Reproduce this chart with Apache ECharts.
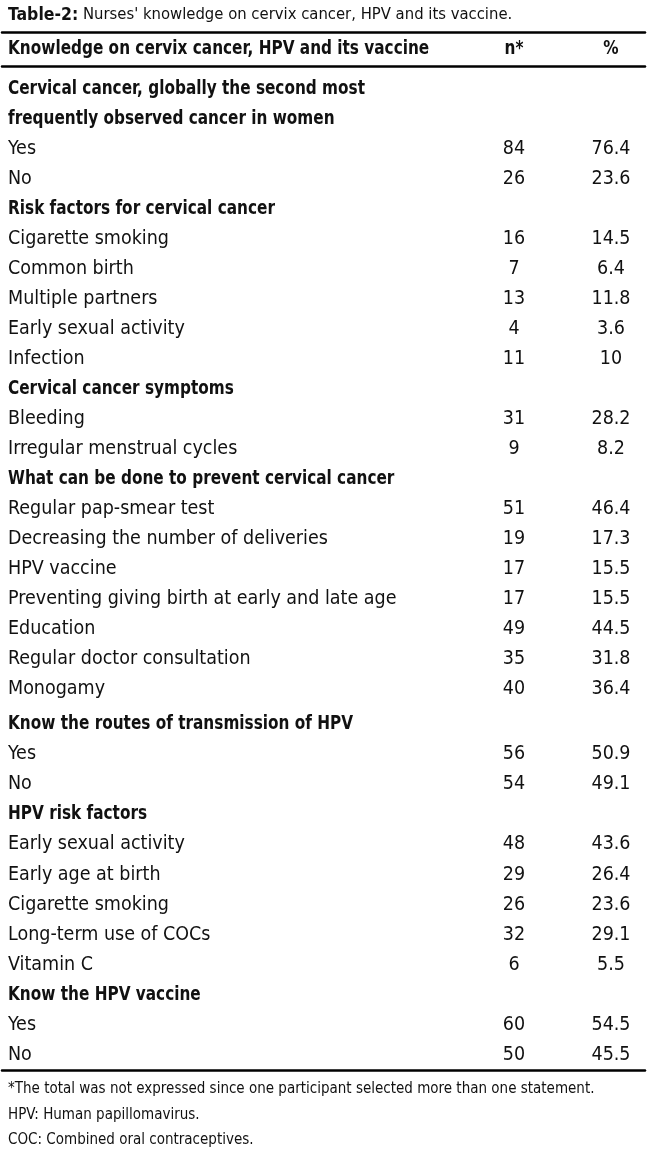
<!DOCTYPE html>
<html>
<head>
<meta charset="utf-8">
<script src="https://cdn.jsdelivr.net/npm/echarts@6/dist/echarts.min.js"></script>
<style>
  html, body { margin: 0; padding: 0; background: #fff; }
  #table { width: 650px; height: 1159px; }
</style>
</head>
<body>
<div id="table"></div>
<script>
// table content
var headerCols = ['Knowledge on cervix cancer, HPV and its vaccine', 'n*', '%'];
var labels = [
    'Cervical cancer, globally the second most',
    'frequently observed cancer in women',
    'Yes', 'No',
    'Risk factors for cervical cancer',
    'Cigarette smoking', 'Common birth', 'Multiple partners', 'Early sexual activity', 'Infection',
    'Cervical cancer symptoms',
    'Bleeding', 'Irregular menstrual cycles',
    'What can be done to prevent cervical cancer',
    'Regular pap-smear test', 'Decreasing the number of deliveries', 'HPV vaccine',
    'Preventing giving birth at early and late age', 'Education', 'Regular doctor consultation', 'Monogamy',
    'Know the routes of transmission of HPV',
    'Yes', 'No',
    'HPV risk factors',
    'Early sexual activity', 'Early age at birth', 'Cigarette smoking', 'Long-term use of COCs', 'Vitamin C',
    'Know the HPV vaccine',
    'Yes', 'No'
];
var nValues = [null, null, 84, 26, null, 16, 7, 13, 4, 11, null, 31, 9, null, 51, 19, 17, 17, 49, 35, 40,
    null, 56, 54, null, 48, 29, 26, 32, 6, null, 60, 50];
var pctValues = [null, null, 76.4, 23.6, null, 14.5, 6.4, 11.8, 3.6, 10, null, 28.2, 8.2, null, 46.4, 17.3,
    15.5, 15.5, 44.5, 31.8, 36.4, null, 50.9, 49.1, null, 43.6, 26.4, 23.6, 29.1, 5.5, null, 54.5, 45.5];
var titleBold = 'Table-2:';
var titleText = "Nurses' knowledge on cervix cancer, HPV and its vaccine.";
var footnotes = [
    '*The total was not expressed since one participant selected more than one statement.',
    'HPV: Human papillomavirus.',
    'COC: Combined oral contraceptives.'
];

// layout
var FONT = "'Liberation Sans Narrow', 'DejaVu Sans Condensed', 'Open Sans', sans-serif";
var FS = 19.5;
var FS_BOLD = 19;
var BOLD_SQUEEZE = 0.895; // bold face is wider than the original, squeeze it horizontally
var INK = '#111';
var colX = { label: 8, n: 514, pct: 611 };
var splitAt = 21; // second block starts at "Know the routes..."

function rowIds(from, to) {
    var ids = [];
    for (var i = from; i < to; i++) ids.push(String(i));
    return ids;
}

// one text column, placed through the grid's axes
function textColumn(name, xIdx, yIdx, anchor, texts, from, to, align, isBold) {
    var data = [];
    for (var i = from; i < to; i++) {
        if (texts[i] === null || texts[i] === undefined) continue;
        data.push([anchor, i - from, i]);
    }
    return {
        name: name,
        type: 'custom',
        xAxisIndex: xIdx,
        yAxisIndex: yIdx,
        silent: true,
        encode: { x: 0, y: 1 },
        data: data,
        renderItem: function (params, api) {
            var pt = api.coord([api.value(0), api.value(1)]);
            var idx = api.value(2);
            var bold = isBold(idx);
            return {
                type: 'text',
                x: pt[0],
                y: pt[1],
                scaleX: bold ? BOLD_SQUEEZE : 1,
                style: {
                    text: String(texts[idx]),
                    fontFamily: FONT,
                    fontSize: bold ? FS_BOLD : FS,
                    fontWeight: bold ? 'bold' : 'normal',
                    fill: INK,
                    align: align,
                    verticalAlign: 'middle'
                }
            };
        }
    };
}

function headingRow(i) { return nValues[i] === null; }
function never() { return false; }
function always() { return true; }

var myChart = echarts.init(document.getElementById('table'), null, { renderer: 'canvas' });
var rule = { show: true, lineStyle: { color: '#000', width: 2.5 } };
function xAxisFor(grid, pos, line) {
    return {
        type: 'value', gridIndex: grid, min: 2, max: 645, position: pos,
        axisLine: line ? rule : { show: false },
        axisTick: { show: false }, axisLabel: { show: false }, splitLine: { show: false }
    };
}
function yAxisFor(grid, ids) {
    return {
        type: 'category', gridIndex: grid, data: ids, inverse: true,
        axisLine: { show: false }, axisTick: { show: false },
        axisLabel: { show: false }, splitLine: { show: false }
    };
}

var option = {
    backgroundColor: '#fff',
    animation: false,
    grid: [
        { left: 2, right: 5, top: 32, height: 34 },
        { left: 2, right: 5, top: 74, height: 630 },
        { left: 2, right: 5, top: 709, height: 361 }
    ],
    xAxis: [
        xAxisFor(0, 'top', true),
        xAxisFor(0, 'bottom', true),
        xAxisFor(1, 'bottom', false),
        xAxisFor(2, 'bottom', true)
    ],
    yAxis: [
        yAxisFor(0, ['header']),
        yAxisFor(1, rowIds(0, splitAt)),
        yAxisFor(2, rowIds(splitAt, labels.length))
    ],
    series: [
        textColumn('hLabel', 0, 0, colX.label, [headerCols[0]], 0, 1, 'left', always),
        textColumn('hN', 0, 0, colX.n, [headerCols[1]], 0, 1, 'center', always),
        textColumn('hPct', 0, 0, colX.pct, [headerCols[2]], 0, 1, 'center', always),
        textColumn('labelA', 2, 1, colX.label, labels, 0, splitAt, 'left', headingRow),
        textColumn('nA', 2, 1, colX.n, nValues, 0, splitAt, 'center', never),
        textColumn('pctA', 2, 1, colX.pct, pctValues, 0, splitAt, 'center', never),
        textColumn('labelB', 3, 2, colX.label, labels, splitAt, labels.length, 'left', headingRow),
        textColumn('nB', 3, 2, colX.n, nValues, splitAt, labels.length, 'center', never),
        textColumn('pctB', 3, 2, colX.pct, pctValues, splitAt, labels.length, 'center', never)
    ],
    graphic: [{
        type: 'text',
        left: 8,
        top: 6,
        style: {
            text: '{b|' + titleBold + '} ' + titleText,
            fontFamily: FONT,
            fontSize: 16.5,
            fill: INK,
            rich: { b: { fontFamily: FONT, fontSize: 17.5, fontWeight: 'bold', fill: INK } }
        }
    }].concat(footnotes.map(function (t, i) {
        return {
            type: 'text',
            left: 8,
            top: 1082 + i * 25.5,
            style: { text: t, fontFamily: FONT, fontSize: 15, fill: INK }
        };
    }))
};

myChart.setOption(option);
window.addEventListener('resize', function () {
    myChart.resize();
});
</script>
</body>
</html>
